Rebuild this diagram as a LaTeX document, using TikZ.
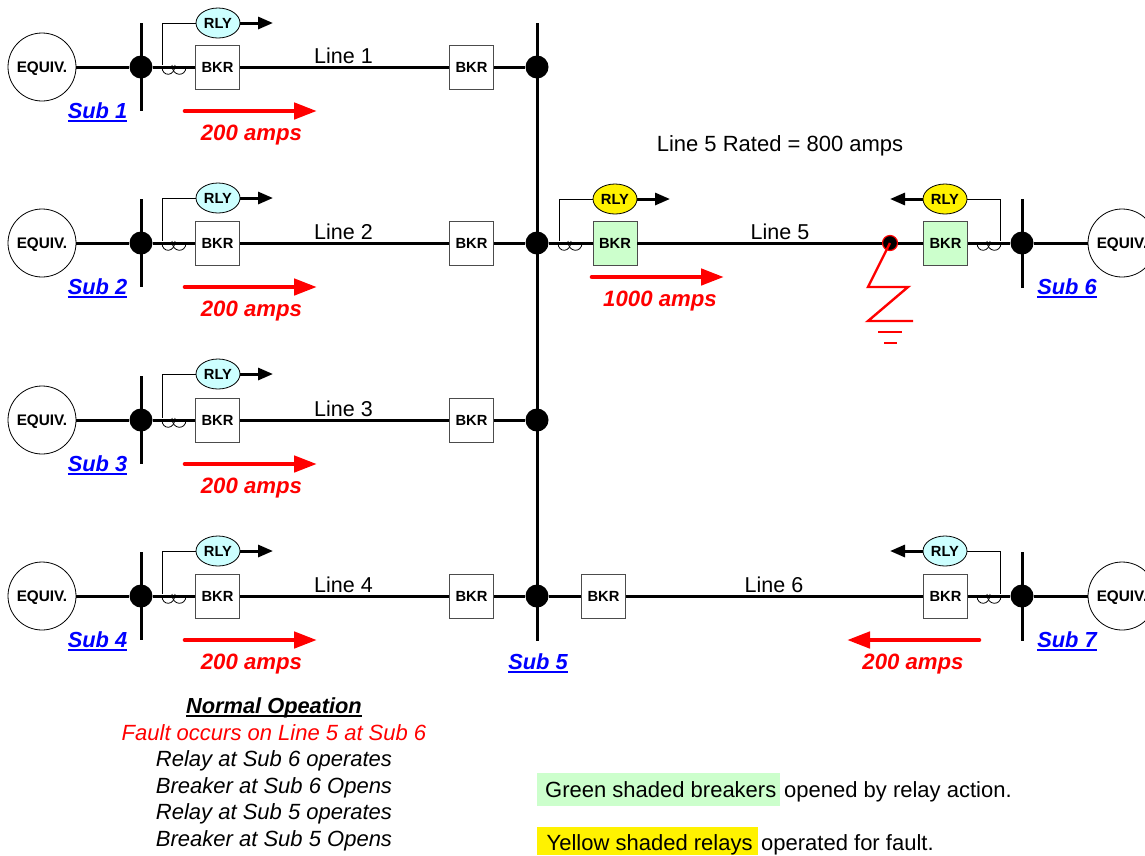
\documentclass[tikz,border=0pt]{standalone}
\usepackage{fontspec}
\setmainfont{Liberation Sans}
\usetikzlibrary{arrows.meta,shapes.geometric}
\definecolor{rlycyan}{HTML}{CCFFFF}
\definecolor{opengreen}{HTML}{CCFFCC}
\definecolor{hlgreen}{HTML}{CCFFCC}
\definecolor{subblue}{HTML}{0000FF}
\newcommand{\fsz}[1]{\fontsize{#1}{#1}\selectfont}
\newcommand{\ulb}[1]{\setbox0=\hbox{#1}\rlap{\rule[-4.4pt]{\wd0}{2.4pt}}\box0}
\tikzset{
  x=1pt,y=-1pt,
  bkrbox/.style={draw=black!70!white,line width=0.9pt,fill=white,minimum width=44pt,minimum height=44pt,inner sep=0pt,text height=10.4pt,text depth=0pt,font=\bfseries\fsz{14.7}},
  rlyoval/.style={ellipse,draw=black,line width=0.8pt,fill=rlycyan,minimum width=44pt,minimum height=30pt,inner sep=0pt,text height=10.4pt,text depth=0pt,font=\bfseries\fsz{14.7}},
  equivc/.style={circle,draw=black,line width=0.8pt,fill=white,minimum size=68pt,inner sep=0pt,text height=10.4pt,text depth=0pt,font=\bfseries\fsz{15.3}},
  busdot/.style={circle,fill=black,minimum size=23pt,inner sep=0pt},
  power/.style={line width=3pt},
  wire/.style={line width=0.9pt},
  coilw/.style={line width=0.8pt},
  tripa/.style={line width=3pt,-{Triangle[length=15pt,width=12pt]}},
  flowa/.style={red,line width=4.6pt,line cap=round,-{Triangle[length=23pt,width=16pt]}},
  sublbl/.style={anchor=base,inner sep=0pt,text=subblue,font=\bfseries\itshape\fsz{21.8}},
  ampl/.style={anchor=base,inner sep=0pt,text=red,font=\bfseries\itshape\fsz{22.2}},
  linel/.style={anchor=base,inner sep=0pt,font=\fsz{21.5}},
  note/.style={anchor=base,inner sep=0pt,font=\itshape\fsz{22}},
  legend/.style={anchor=base west,inner sep=0pt,font=\fsz{22}},
}
\newcommand{\coil}[2]{%
  \draw[coilw] (#1,#2) .. controls (#1,#2+10) and (#1+13,#2+10) .. (#1+13,#2-2);
  \draw[coilw] (#1+10,#2-2) .. controls (#1+10,#2+10) and (#1+24,#2+10) .. (#1+24,#2);
}
\begin{document}
\begin{tikzpicture}
\useasboundingbox (0,0) rectangle (1145,855);
\clip (0,0) rectangle (1145,855);
\fill[white] (0,0) rectangle (1145,855);

% main bus at Sub 5
\coordinate (b5top) at (537,23);
\coordinate (b5bot) at (537,641);
\draw[power] (b5top) -- (b5bot);

% left four substations
\foreach \r/\yy/\ry/\n in {1/67/23/1,2/243/198/2,3/420/374/3,4/596/551/4}{
  \coordinate (bt\r) at (141,\yy-44);
  \coordinate (bb\r) at (141,\yy+44);
  \draw[power] (bt\r) -- (bb\r);
  \node[equivc] (eq\r) at (42,\yy) {EQUIV.};
  \node[busdot] (dl\r) at (141,\yy) {};
  \node[busdot] (dr\r) at (537,\yy) {};
  \node[bkrbox] (ba\r) at (217.5,\yy) {BKR};
  \node[bkrbox] (bc\r) at (471.5,\yy) {BKR};
  \draw[power] (eq\r) -- (dl\r);
  \draw[power] (dl\r) -- (ba\r);
  \draw[power] (ba\r) -- (bc\r);
  \draw[power] (bc\r) -- (dr\r);
  \node[rlyoval] (ry\r) at (218,\ry) {RLY};
  \coordinate (ct\r) at (162,\yy-2);
  \draw[wire] (ry\r.west) -| (ct\r);
  \coil{162}{\yy}
  \coordinate (tr\r) at (273,\ry);
  \draw[tripa] (ry\r.east) -- (tr\r);
  \coordinate (fs\r) at (185,\yy+44);
  \coordinate (fe\r) at (317,\yy+44);
  \draw[flowa] (fs\r) -- (fe\r);
  \node[sublbl] (sl\r) at (97.5,\yy+51) {\ulb{Sub \n}};
  \node[ampl] (am\r) at (251.5,\yy+73) {200 amps};
  \node[linel] (ll\r) at (343.5,\yy-4) {Line \n};
}

% Line 5
\node[busdot] (d6) at (1022,243) {};
\coordinate (b6t) at (1022,199);
\coordinate (b6b) at (1022,288);
\draw[power] (b6t) -- (b6b);
\node[equivc] (eq6) at (1122,243) {EQUIV.};
\node[bkrbox,fill=opengreen] (b5a) at (615,243) {BKR};
\node[bkrbox,fill=opengreen] (b6a) at (945.5,243) {BKR};
\node[circle,fill=black,draw=red,line width=1.2pt,minimum size=15pt,inner sep=0pt] (fd) at (890,243) {};
\draw[power] (dr2) -- (b5a);
\draw[power] (b5a) -- (fd);
\draw[power] (fd) -- (b6a);
\draw[power] (b6a) -- (d6);
\draw[power] (d6) -- (eq6);
\node[rlyoval,fill=yellow] (ry5) at (615,199) {RLY};
\node[rlyoval,fill=yellow] (ry6) at (945,199) {RLY};
\coordinate (ct5) at (559,241);
\coordinate (ct6) at (1000,241);
\draw[wire] (ry5.west) -| (ct5);
\draw[wire] (ry6.east) -| (ct6);
\coil{558}{243}
\coil{977}{243}
\coordinate (tr5) at (670,199);
\coordinate (tr6) at (890,199);
\draw[tripa] (ry5.east) -- (tr5);
\draw[tripa] (ry6.west) -- (tr6);
\coordinate (f5s) at (592,277);
\coordinate (f5e) at (724,277);
\draw[flowa] (f5s) -- (f5e);
\node[ampl] (am5) at (660,306) {1000 amps};
\node[linel] (ll5) at (780,239) {Line 5};
\node[linel,font=\fsz{22}] (rated) at (780,151) {Line 5 Rated = 800 amps};
\node[sublbl] (sl6) at (1067,294) {\ulb{Sub 6}};

% fault
\coordinate (z1) at (868,287);
\coordinate (z2) at (908,287);
\coordinate (z3) at (868,321);
\coordinate (z4) at (913,321);
\draw[red,line width=2.4pt] (fd.center) -- (z1) -- (z2) -- (z3) -- (z4);
\coordinate (g1a) at (878,332); \coordinate (g1b) at (902,332);
\coordinate (g2a) at (884,343); \coordinate (g2b) at (897,343);
\draw[red,line width=2.4pt] (g1a) -- (g1b);
\draw[red,line width=2.4pt] (g2a) -- (g2b);

% Line 6
\node[busdot] (d7) at (1022,596) {};
\coordinate (b7t) at (1022,552);
\coordinate (b7b) at (1022,641);
\draw[power] (b7t) -- (b7b);
\node[equivc] (eq7) at (1122,596) {EQUIV.};
\node[bkrbox] (b5b) at (603.5,596) {BKR};
\node[bkrbox] (b7a) at (945.5,596) {BKR};
\draw[power] (dr4) -- (b5b);
\draw[power] (b5b) -- (b7a);
\draw[power] (b7a) -- (d7);
\draw[power] (d7) -- (eq7);
\node[rlyoval] (ry7) at (945,551) {RLY};
\coordinate (ct7) at (1000,594);
\draw[wire] (ry7.east) -| (ct7);
\coil{977}{596}
\coordinate (tr7) at (890,551);
\draw[tripa] (ry7.west) -- (tr7);
\coordinate (f7s) at (979,640);
\coordinate (f7e) at (847,640);
\draw[flowa] (f7s) -- (f7e);
\node[ampl] (am7) at (913,669) {200 amps};
\node[linel] (ll6) at (774,592) {Line 6};
\node[sublbl] (sl7) at (1067,647) {\ulb{Sub 7}};
\node[sublbl] (sl5) at (538,669) {\ulb{Sub 5}};

% notes
\node[note,font=\bfseries\itshape\fsz{21.8}] (n1) at (274,713) {\ulb{Normal Opeation}};
\node[note,text=red] (n2) at (274,740) {Fault occurs on Line 5 at Sub 6};
\node[note] (n3) at (274,766) {Relay at Sub 6 operates};
\node[note] (n4) at (274,793) {Breaker at Sub 6 Opens};
\node[note] (n5) at (274,819) {Relay at Sub 5 operates};
\node[note] (n6) at (274,846) {Breaker at Sub 5 Opens};

% legend
\fill[hlgreen] (537,773) rectangle (780,806);
\fill[yellow] (537,827) rectangle (758,855);
\node[legend] (lg1) at (545,797) {Green shaded breakers};
\node[legend] (lg2) at (784,797) {opened by relay action.};
\node[legend] (ly1) at (546.5,850) {Yellow shaded relays};
\node[legend] (ly2) at (761,850) {operated for fault.};
\end{tikzpicture}
\end{document}
